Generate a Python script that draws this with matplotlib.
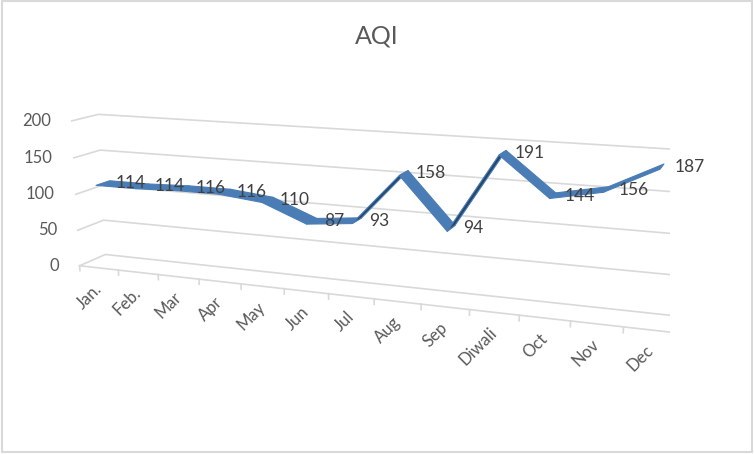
import numpy as np
import matplotlib.pyplot as plt
from mpl_toolkits.mplot3d import proj3d
from mpl_toolkits.mplot3d.art3d import Poly3DCollection

months = ["Jan.", "Feb.", "Mar", "Apr", "May", "Jun", "Jul",
          "Aug", "Sep", "Diwali", "Oct", "Nov", "Dec"]
aqi = [114, 114, 116, 116, 110, 87, 93, 158, 94, 191, 144, 156, 187]
z_ticks = [0, 50, 100, 150, 200]
series_name = "AQI"

plt.rcParams['font.family'] = ['Lato', 'DejaVu Sans']

grid_c = '#d9d9d9'
tick_c = '#595959'
label_c = '#404040'

fig = plt.figure(figsize=(7.54, 4.54), dpi=100)
ax = fig.add_axes([0.044, -0.19, 0.845, 1.403], projection='3d')
ax.set_axis_off()

n = len(months)
ax.set_xlim(0, n)
ax.set_ylim(0, 1)
ax.set_zlim(0, 200)
ax.set_box_aspect((12.5, 1, 3.13))
ax.view_init(elev=13, azim=-69)
ax.set_proj_type('persp', focal_length=0.35)

M = ax.get_proj()


def to2d(x, y, z):
    X, Y, _ = proj3d.proj_transform(x, y, z, M)
    return np.asarray(X), np.asarray(Y)


# walls: gridlines on side wall + back wall, floor outline, ticks
for z in z_ticks:
    ax.plot([0, 0, n], [0, 1, 1], [z, z, z], color=grid_c, lw=1.2)
ax.plot([0, n, n, n + 0.25], [0, 0, 1, 1], [0, 0, 0, 0], color=grid_c, lw=1.2)
for k in range(n + 1):
    ax.plot([k, k], [0, 0], [0, -7], color=grid_c, lw=1.2)

# the 3d line: a flat ribbon, darker where its underside faces us
xc = np.arange(n) + 0.5
v = np.array(aqi, dtype=float)
y0, y1 = 0.05, 0.57
faces = []
fcols = []
ecols = []
for i in range(n - 1):
    quad = [(xc[i], y0, v[i]), (xc[i + 1], y0, v[i + 1]),
            (xc[i + 1], y1, v[i + 1]), (xc[i], y1, v[i])]
    faces.append(quad)
    px, py = to2d(*np.array(quad).T)
    area = np.sum(px * np.roll(py, -1) - np.roll(px, -1) * py)
    if area > 0:
        fcols.append('#4a7db5')
        ecols.append('#4a7db5')
    else:
        fcols.append('#24466d')
        ecols.append('#4a7db5')
ax.add_collection3d(Poly3DCollection(faces, facecolors=fcols,
                                     edgecolors=ecols, lw=0.8))

# data labels
for i in range(n):
    ax.annotate(str(aqi[i]), xy=to2d(xc[i], 0.3, v[i]), xytext=(9, 0),
                textcoords='offset points', ha='left', va='center',
                fontsize=12.5, color=label_c)

# category labels
for i in range(n):
    ax.annotate(months[i], xy=to2d(xc[i], 0, 0), xytext=(0, -13),
                textcoords='offset points', ha='right', va='center',
                rotation=45, rotation_mode='anchor', fontsize=12, color=tick_c)

# value labels
for z in z_ticks:
    ax.annotate(str(z), xy=to2d(0, 0, z), xytext=(-15, 0),
                textcoords='offset points', ha='right', va='center',
                fontsize=12, color=tick_c)

# series (depth) axis label
ax.annotate(series_name, xy=to2d(n, 0.5, 0), xytext=(13, 0),
            textcoords='offset points', ha='left', va='center',
            fontsize=12, color=tick_c)

fig.text(0.5, 1 - 36 / 454, "AQI", ha='center', va='center',
         fontsize=18, color=tick_c)

fig.patches.append(plt.Rectangle((0.002, 0.004), 0.995, 0.993,
                                 transform=fig.transFigure, fill=False,
                                 edgecolor=grid_c, lw=1.5))

fig.savefig("out.png", dpi=100)
